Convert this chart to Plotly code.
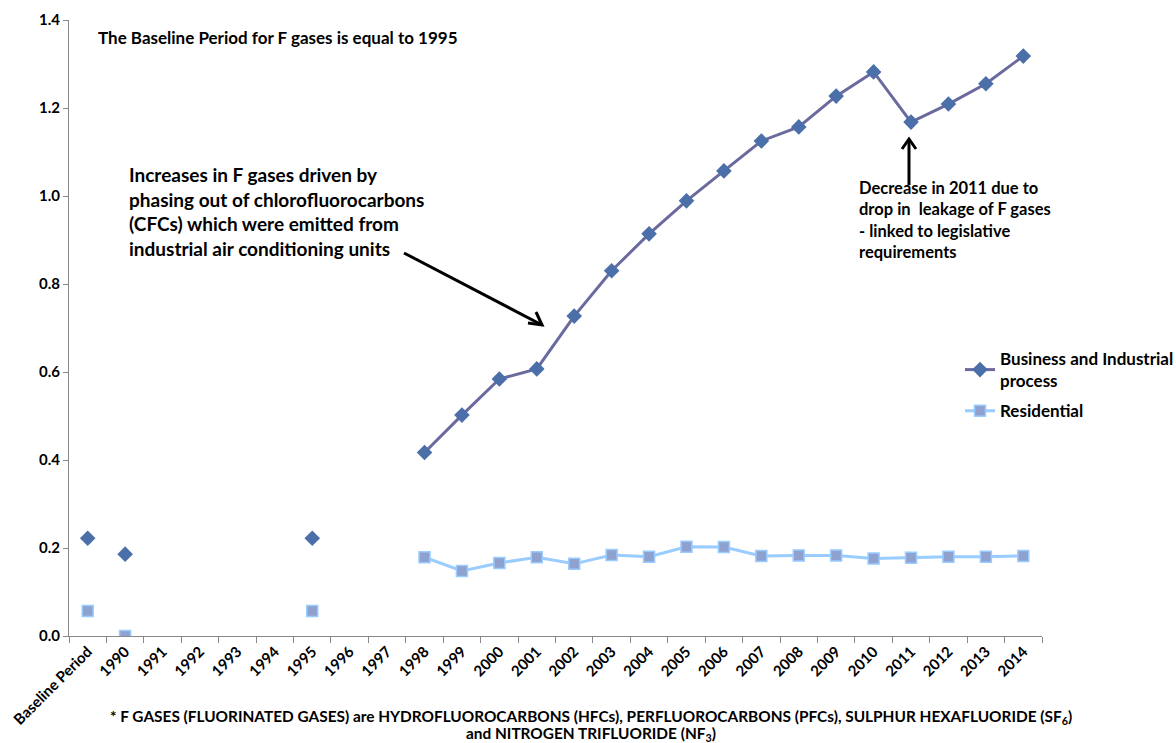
import plotly.graph_objects as go

# Category labels along the x axis
categories = ["Baseline Period"] + [str(y) for y in range(1990, 2015)]

# Index values (Baseline Period = 1995); None where no value is reported
business = [0.222, 0.186, None, None, None, None, 0.222, None, None,
            0.417, 0.502, 0.584, 0.607, 0.727, 0.830, 0.914, 0.989,
            1.057, 1.125, 1.157, 1.227, 1.282, 1.168, 1.209, 1.255, 1.318]
residential = [0.057, 0.0, None, None, None, None, 0.057, None, None,
               0.179, 0.148, 0.166, 0.179, 0.164, 0.184, 0.180, 0.203,
               0.202, 0.182, 0.183, 0.183, 0.176, 0.178, 0.180, 0.180, 0.182]

# The early years stand alone; the continuous series starts in 1998
split = categories.index("1998")

biz_line = "#6A6A9F"
biz_marker = "#4B6FA9"
res_line = "#99CCFF"
res_marker = "#8FA2CF"
font_family = "Lato, 'Open Sans', sans-serif"

W, H = 1176, 743
L, R, T, B = 69, 134, 20, 107
PW, PH = W - L - R, H - T - B


def px(x, y):
    """Convert a page pixel position to paper coordinates."""
    return (x - L) / PW, (H - B - y) / PH


fig = go.Figure()

fig.add_trace(go.Scatter(
    x=categories[:split], y=business[:split], mode="markers",
    marker=dict(symbol="diamond", size=12, color=biz_marker,
                line=dict(color=biz_marker, width=0)),
    showlegend=False, hoverinfo="x+y"))
fig.add_trace(go.Scatter(
    x=categories[:split], y=residential[:split], mode="markers",
    marker=dict(symbol="square", size=11, color=res_marker,
                line=dict(color=res_line, width=1.5)),
    showlegend=False, hoverinfo="x+y"))
fig.add_trace(go.Scatter(
    x=categories[split:], y=business[split:], mode="lines+markers",
    name="Business and Industrial<br>process", legendgroup="business",
    line=dict(color=biz_line, width=3),
    marker=dict(symbol="diamond", size=12, color=biz_marker,
                line=dict(color=biz_marker, width=0))))
fig.add_trace(go.Scatter(
    x=categories[split:], y=residential[split:], mode="lines+markers",
    name="Residential", legendgroup="residential",
    line=dict(color=res_line, width=3),
    marker=dict(symbol="square", size=11, color=res_marker,
                line=dict(color=res_line, width=1.5))))

lx, ly = px(960, 341)
fig.update_layout(
    width=W, height=H,
    margin=dict(l=L, r=R, t=T, b=B, autoexpand=False),
    paper_bgcolor="white", plot_bgcolor="white",
    font=dict(family=font_family, size=15, color="black", weight="bold"),
    legend=dict(x=lx, y=ly, xanchor="left", yanchor="top",
                font=dict(size=17, weight="bold"), tracegroupgap=5,
                bgcolor="rgba(0,0,0,0)", itemwidth=30),
    xaxis=dict(type="category", categoryorder="array",
               categoryarray=categories, range=[-0.5, len(categories) - 0.5],
               tickangle=-45, tickson="boundaries", ticks="outside",
               ticklen=6, tickcolor="#888", showline=True, linecolor="#888",
               linewidth=1, showgrid=False, zeroline=False,
               tickfont=dict(size=15, weight="bold")),
    yaxis=dict(range=[0, 1.4], dtick=0.2, tickformat=".1f",
               ticks="outside", ticklen=5, tickcolor="#888", showline=True,
               linecolor="#888", linewidth=1, showgrid=False, zeroline=False,
               tickfont=dict(size=15, weight="bold")),
)

# Text notes
x0, y0 = px(96, 37)
fig.add_annotation(
    xref="paper", yref="paper", x=x0, y=y0,
    xanchor="left", yanchor="middle", showarrow=False,
    text="The Baseline Period for F gases is equal to 1995",
    font=dict(size=17, weight="bold"))
x0, y0 = px(127, 161)
fig.add_annotation(
    xref="paper", yref="paper", x=x0, y=y0,
    xanchor="left", yanchor="top", align="left", showarrow=False,
    text=("Increases in F gases driven by<br>phasing out of chlorofluorocarbons"
          "<br>(CFCs) which were emitted from<br>industrial air conditioning units"),
    font=dict(size=19, weight="bold"))
x0, y0 = px(857, 176)
fig.add_annotation(
    xref="paper", yref="paper", x=x0, y=y0,
    xanchor="left", yanchor="top", align="left", showarrow=False,
    text=("Decrease in 2011 due to<br>drop in  leakage of F gases"
          "<br>- linked to legislative<br>requirements"),
    font=dict(size=16.5, weight="bold"))

# Arrows drawn as a shaft with an open chevron head
arrows = [
    [(404, 253), (542, 325), (528, 323), (542, 325), (536, 312)],
    [(909, 185), (909, 139), (902, 149), (909, 139), (916, 149)],
]
for shaft_a, shaft_b, h1, tip, h2 in arrows:
    a, b = px(*shaft_a), px(*shaft_b)
    fig.add_shape(type="line", xref="paper", yref="paper",
                  x0=a[0], y0=a[1], x1=b[0], y1=b[1],
                  line=dict(color="black", width=3))
    p1, pt, p2 = px(*h1), px(*tip), px(*h2)
    fig.add_shape(type="path", xref="paper", yref="paper",
                  path=f"M {p1[0]} {p1[1]} L {pt[0]} {pt[1]} L {p2[0]} {p2[1]}",
                  line=dict(color="black", width=3))

# Footnote
x0, y0 = px(591, 717)
fig.add_annotation(
    xref="paper", yref="paper", x=x0, y=y0,
    xanchor="center", yanchor="middle", showarrow=False,
    text=("* F GASES (FLUORINATED GASES) are HYDROFLUOROCARBONS (HFCs), "
          "PERFLUOROCARBONS (PFCs), SULPHUR HEXAFLUORIDE (SF<sub>6</sub>)"),
    font=dict(size=15.4, weight="bold"))
x0, y0 = px(591, 734)
fig.add_annotation(
    xref="paper", yref="paper", x=x0, y=y0,
    xanchor="center", yanchor="middle", showarrow=False,
    text="and NITROGEN TRIFLUORIDE (NF<sub>3</sub>)",
    font=dict(size=15.4, weight="bold"))

fig.write_html("out.html")
